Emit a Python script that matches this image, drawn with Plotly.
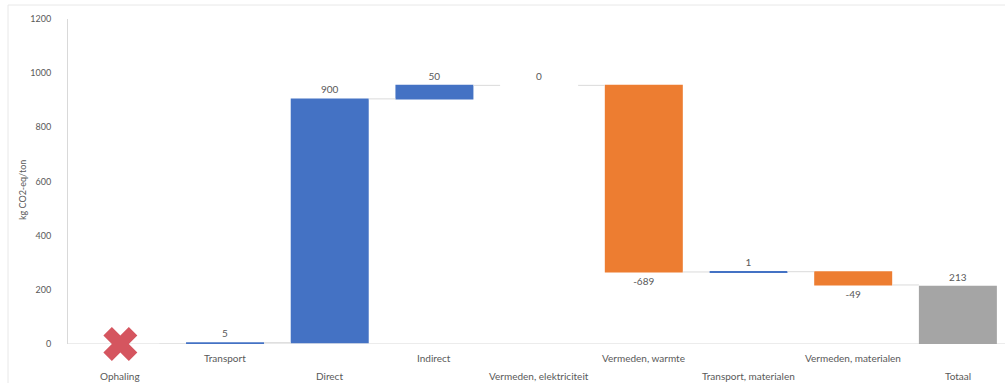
import plotly.graph_objects as go

categories = ["Ophaling", "Transport", "Direct", "Indirect", "Vermeden, elektriciteit",
              "Vermeden, warmte", "Transport, materialen", "Vermeden, materialen", "Totaal"]
values = [0, 5, 900, 50, 0, -689, 1, -49, 213]
measures = ["relative"] * 8 + ["absolute"]
labels = ["", "5", "900", "50", "0", "-689", "1", "-49", "213"]
y_ticks = [0, 200, 400, 600, 800, 1000, 1200]
y_title = "kg CO2-eq/ton"

W, H = 1005, 383
ML, MR, MT, MB = 68, 0, 19, 39
pw = W - ML - MR
ph = H - MT - MB
grey = "#595959"
font = "Lato"
tf = dict(size=10, color=grey, family=font)

fig = go.Figure()
fig.add_trace(go.Waterfall(
    x=categories, y=values, measure=measures,
    text=labels, textposition="outside", texttemplate="%{text}",
    textfont=tf, outsidetextfont=tf,
    increasing=dict(marker=dict(color="#4472C4")),
    decreasing=dict(marker=dict(color="#ED7D31")),
    totals=dict(marker=dict(color="#A5A5A5")),
    connector=dict(line=dict(color="#DADADA", width=1), mode="between"),
    cliponaxis=False, hoverinfo="skip", showlegend=False,
))
# Ophaling shown as a red cross
fig.add_trace(go.Scatter(
    x=[categories[0]], y=[values[0]], mode="markers",
    marker=dict(symbol="x", size=30, color="#D5555F", line=dict(width=0)),
    cliponaxis=False, showlegend=False, hoverinfo="skip",
))

annotations = []
for i, c in enumerate(categories):
    annotations.append(dict(
        x=c, xref="x", y=0, yref="y", yanchor="middle",
        yshift=-14 if i % 2 == 1 else -32,
        text=c, showarrow=False, font=tf,
    ))
annotations.append(dict(
    x=(22 - ML) / pw, xref="paper", xanchor="center",
    y=(MT + ph - 190) / ph, yref="paper", yanchor="middle",
    text=y_title, textangle=-90, showarrow=False,
    font=dict(size=9, color=grey, family=font),
))

fig.update_layout(
    width=W, height=H,
    margin=dict(l=ML, r=MR, t=MT, b=MB, autoexpand=False),
    paper_bgcolor="white", plot_bgcolor="white",
    waterfallgap=0.255,
    xaxis=dict(range=[-0.5, 8.45], showticklabels=False, showgrid=False,
               zeroline=False, showline=False, fixedrange=True),
    yaxis=dict(range=[0, 1200], tickvals=y_ticks, showgrid=False,
               zeroline=False, showline=True, linecolor="#D9D9D9", linewidth=1,
               ticks="", ticklabelstandoff=14,
               tickfont=dict(size=9, color=grey, family=font)),
    annotations=annotations,
    shapes=[
        dict(type="line", xref="paper", yref="y", x0=0, x1=1, y0=0, y1=0,
             line=dict(color="#D9D9D9", width=1), layer="below"),
        dict(type="line", xref="paper", yref="paper",
             x0=(8 - ML) / pw, x1=1.01, y0=(MT + ph - 5) / ph, y1=(MT + ph - 5) / ph,
             line=dict(color="#E8E8E8", width=1)),
        dict(type="line", xref="paper", yref="paper",
             x0=(8 - ML) / pw, x1=(8 - ML) / pw, y0=(MT + ph - 5) / ph, y1=-0.2,
             line=dict(color="#E8E8E8", width=1)),
    ],
)

fig.write_html("out.html")
